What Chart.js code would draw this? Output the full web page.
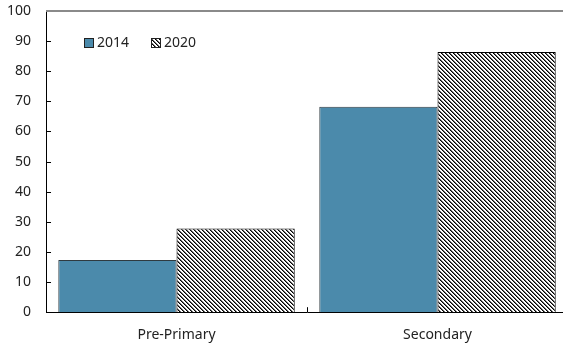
<!DOCTYPE html>
<html>
<head>
<meta charset="utf-8">
<script src="https://cdn.jsdelivr.net/npm/chart.js@4/dist/chart.umd.min.js"></script>
<style>
  html, body { margin: 0; padding: 0; background: #fff; overflow: hidden; }
  #wrap { width: 570px; height: 343px; position: relative; }
</style>
</head>
<body>
<div id="wrap"><canvas id="myChart"></canvas></div>
<script>
'use strict';
// chart data
let categories = ['Pre-Primary', 'Secondary'];
let seriesNames = ['2014', '2020'];
let values2014 = [17.3, 68.2];
let values2020 = [27.8, 86.4];
let yTicks = [0, 10, 20, 30, 40, 50, 60, 70, 80, 90, 100];

let blueColor = '#4b8aab';

// diagonal hatch for the 2020 bars
function makeHatch() {
  let c = document.createElement('canvas');
  c.width = 4;
  c.height = 4;
  let g = c.getContext('2d');
  g.fillStyle = '#fff';
  g.fillRect(0, 0, 4, 4);
  for (let y = 0; y < 4; y++) {
    g.fillStyle = '#000';
    g.fillRect(y % 4, y, 1, 1);
    g.fillStyle = '#6a6a6a';
    g.fillRect((y + 1) % 4, y, 1, 1);
  }
  return g.createPattern(c, 'repeat');
}
let hatch = makeHatch();

// inward ticks, top border line and the legend
let extrasPlugin = {
  id: 'extras',
  afterDraw(chart) {
    let ctx = chart.ctx;
    let area = chart.chartArea;
    let ys = chart.scales.y;
    let xs = chart.scales.x;
    ctx.save();
    ctx.strokeStyle = '#000';
    ctx.lineWidth = 1;
    ctx.beginPath();
    for (let i = 1; i < yTicks.length - 1; i++) {
      let py = Math.round(ys.getPixelForValue(yTicks[i])) + 0.5;
      ctx.moveTo(area.left, py);
      ctx.lineTo(area.left + 5, py);
    }
    for (let i = 0; i < categories.length - 1; i++) {
      let px = Math.round((xs.getPixelForTick(i) + xs.getPixelForTick(i + 1)) / 2) + 0.5;
      ctx.moveTo(px, area.bottom);
      ctx.lineTo(px, area.bottom - 5);
    }
    ctx.stroke();

    ctx.strokeStyle = '#8a8a8a';
    ctx.lineWidth = 2;
    ctx.beginPath();
    ctx.moveTo(area.left, area.top);
    ctx.lineTo(area.right + 5, area.top);
    ctx.stroke();

    // legend
    let lx = 84, ly = 38;
    ctx.font = '14px "Noto Sans"';
    ctx.textBaseline = 'middle';
    chart.data.datasets.forEach(function (ds, i) {
      ctx.fillStyle = ds.backgroundColor;
      ctx.fillRect(lx, ly, 9, 9);
      ctx.strokeStyle = '#222';
      ctx.lineWidth = 1;
      ctx.strokeRect(lx + 0.5, ly + 0.5, 9, 9);
      ctx.fillStyle = '#222';
      ctx.fillText(ds.label, lx + 13, ly + 5);
      lx += 67;
    });
    ctx.restore();
  }
};

new Chart(document.getElementById('myChart').getContext('2d'), {
  type: 'bar',
  data: {
    labels: categories,
    datasets: [
      {
        label: seriesNames[0],
        data: values2014,
        backgroundColor: blueColor,
        borderColor: '#2f3a40',
        borderWidth: 1,
        categoryPercentage: 0.906,
        barPercentage: 1
      },
      {
        label: seriesNames[1],
        data: values2020,
        backgroundColor: hatch,
        borderColor: '#000',
        borderWidth: 1,
        categoryPercentage: 0.906,
        barPercentage: 1
      }
    ]
  },
  options: {
    responsive: true,
    maintainAspectRatio: false,
    animation: false,
    layout: { padding: { top: 0, right: 2, left: -8, bottom: -14 } },
    plugins: { legend: { display: false }, tooltip: { enabled: false } },
    scales: {
      x: {
        grid: { display: false, drawTicks: false },
        border: { display: true, color: '#000', width: 1 },
        ticks: { color: '#222', font: { family: 'Noto Sans', size: 14 }, padding: 14 }
      },
      y: {
        min: 0,
        max: 100,
        afterBuildTicks(scale) { scale.ticks = yTicks.map(v => ({ value: v })); },
        afterFit(scale) { scale.paddingTop = 11; scale.paddingBottom = 8; },
        grid: { display: false, drawTicks: false },
        border: { display: true, color: '#000', width: 1 },
        ticks: { color: '#222', font: { family: 'Noto Sans', size: 14 }, padding: 15 }
      }
    }
  },
  plugins: [extrasPlugin]
});
</script>
</body>
</html>
